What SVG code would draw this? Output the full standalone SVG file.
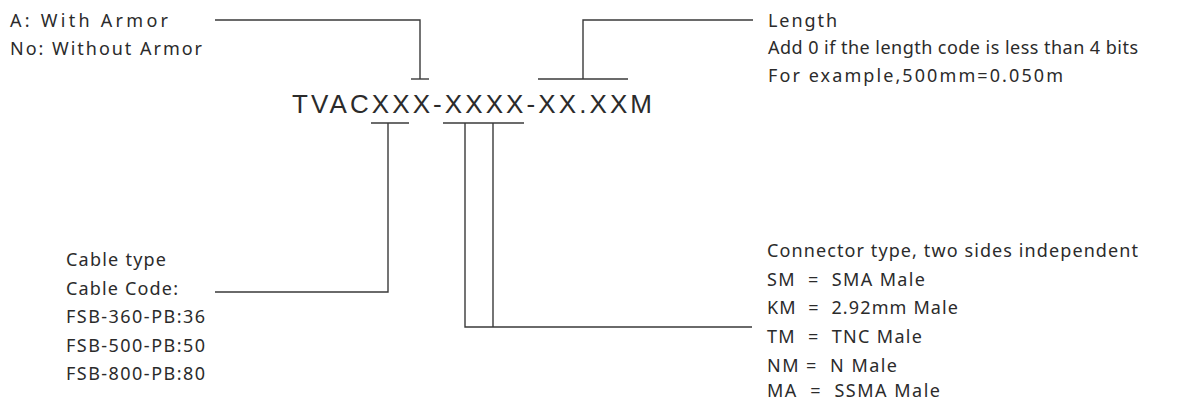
<svg xmlns="http://www.w3.org/2000/svg" width="1191" height="401" viewBox="0 0 1191 401">
<style>
.bg{fill:#ffffff}
.ln{fill:none;stroke:#3a3a3a;stroke-width:1.4}
.t{font-family:"Noto Sans","Open Sans",sans-serif;font-size:18px;fill:#2b2b2b}
.code{font-family:"Liberation Sans",Arial,sans-serif;font-size:26px;fill:#2b2b2b}
</style>
<rect class="bg" x="0" y="0" width="1191" height="401"/>
<g id="code-label">
<text class="code" x="292" y="113" textLength="360" lengthAdjust="spacing">TVACXXX-XXXX-XX.XXM</text>
</g>
<g id="armor-note">
<text class="t" x="10" y="27" textLength="158" lengthAdjust="spacing">A: With Armor</text>
<text class="t" x="10" y="55" textLength="192" lengthAdjust="spacing">No: Without Armor</text>
</g>
<g id="length-note">
<text class="t" x="768" y="27" textLength="69" lengthAdjust="spacing">Length</text>
<text class="t" x="768" y="54" textLength="370" lengthAdjust="spacing">Add 0 if the length code is less than 4 bits</text>
<text class="t" x="768" y="82" textLength="295" lengthAdjust="spacing">For example,500mm=0.050m</text>
</g>
<g id="cable-note">
<text class="t" x="66" y="266" textLength="100" lengthAdjust="spacing">Cable type</text>
<text class="t" x="66" y="295" textLength="112" lengthAdjust="spacing">Cable Code:</text>
<text class="t" x="66" y="323" textLength="139" lengthAdjust="spacing">FSB-360-PB:36</text>
<text class="t" x="66" y="352" textLength="139" lengthAdjust="spacing">FSB-500-PB:50</text>
<text class="t" x="66" y="380" textLength="139" lengthAdjust="spacing">FSB-800-PB:80</text>
</g>
<g id="connector-note">
<text class="t" x="767" y="257" textLength="371" lengthAdjust="spacing">Connector type, two sides independent</text>
<text class="t" x="767" y="286" xml:space="preserve" textLength="158" lengthAdjust="spacing">SM  =  SMA Male</text>
<text class="t" x="767" y="314" xml:space="preserve" textLength="191" lengthAdjust="spacing">KM  =  2.92mm Male</text>
<text class="t" x="767" y="343" xml:space="preserve" textLength="155" lengthAdjust="spacing">TM  =  TNC Male</text>
<text class="t" x="767" y="372" xml:space="preserve" textLength="130" lengthAdjust="spacing">NM =  N Male</text>
<text class="t" x="767" y="397" xml:space="preserve" textLength="173" lengthAdjust="spacing">MA  =  SSMA Male</text>
</g>
<g id="connectors">
<polyline class="ln" points="215,20 420,20 420,79"/>
<line class="ln" x1="411" y1="79" x2="429" y2="79"/>
<polyline class="ln" points="753,20 583,20 583,79"/>
<line class="ln" x1="538" y1="79" x2="628" y2="79"/>
<line class="ln" x1="371" y1="123" x2="409" y2="123"/>
<polyline class="ln" points="388,123 388,292 215,292"/>
<line class="ln" x1="443" y1="123" x2="524" y2="123"/>
<polyline class="ln" points="465,123 465,327 752,327"/>
<line class="ln" x1="493" y1="123" x2="493" y2="327"/>
</g>
</svg>
